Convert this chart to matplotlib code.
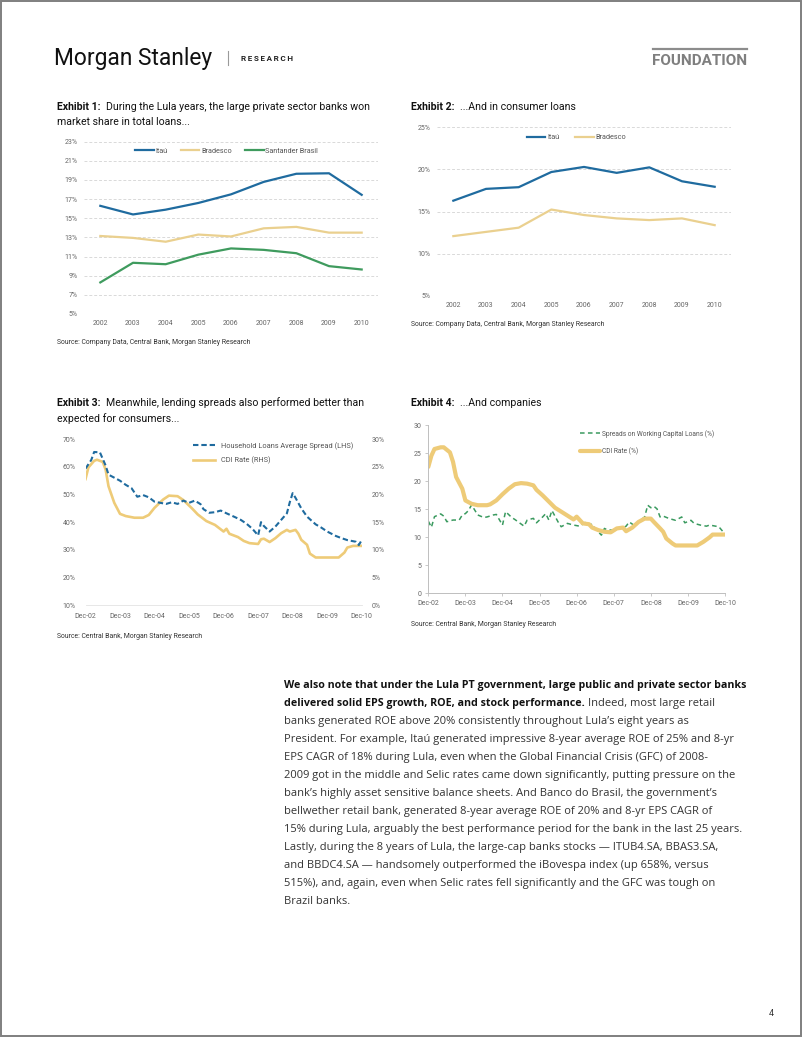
import matplotlib
matplotlib.use("Agg")
import matplotlib.pyplot as plt
from matplotlib.patches import Rectangle
from matplotlib.lines import Line2D

W, H = 802, 1037

# ---- data ----
years = ["2002", "2003", "2004", "2005", "2006", "2007", "2008", "2009", "2010"]

total_itau = [16.3, 15.4, 15.9, 16.6, 17.5, 18.8, 19.65, 19.7, 17.45]
total_bradesco = [13.15, 12.95, 12.55, 13.3, 13.1, 13.95, 14.1, 13.5, 13.5]
total_santander = [8.3, 10.35, 10.2, 11.2, 11.85, 11.7, 11.35, 10.0, 9.65]

cons_itau = [16.3, 17.7, 17.9, 19.7, 20.3, 19.6, 20.25, 18.6, 17.95]
cons_bradesco = [12.1, 12.6, 13.1, 15.25, 14.6, 14.2, 14.0, 14.2, 13.4]

date_labels = ["Dec-02", "Dec-03", "Dec-04", "Dec-05", "Dec-06",
               "Dec-07", "Dec-08", "Dec-09", "Dec-10"]

# months since Dec-02
hh_month = [0, 2, 3, 5, 7, 8, 10, 12, 14, 16, 18, 20, 22, 24, 26, 28, 30, 32,
            34, 36, 38, 40, 41, 43, 45, 47, 49, 52, 54, 56, 58, 60, 61, 62,
            64, 66, 68, 70, 71, 72, 73, 75, 77, 80, 82, 84, 87, 89, 91, 94,
            95, 96]
hh_spread = [59.4, 62.5, 65.4, 65.3, 60.5, 57.2, 56.1, 55.0, 53.5, 52.3, 49.2,
             49.8, 49.0, 47.4, 47.0, 46.6, 47.2, 46.6, 47.8, 47.0, 47.8, 46.5,
             44.7, 43.4, 43.6, 44.2, 43.2, 41.8, 40.8, 39.4, 37.6, 35.2, 40.0,
             38.6, 36.6, 38.4, 40.8, 43.2, 47.2, 50.5, 48.8, 45.0, 42.0, 39.2,
             38.0, 36.6, 35.0, 34.2, 33.5, 32.9, 31.7, 33.5]

cdi3_month = [0, 1, 3, 4, 6, 7, 8, 10, 12, 14, 17, 20, 22, 24, 27, 29, 32, 34,
              37, 39, 42, 45, 47, 48, 49, 50, 53, 55, 57, 60, 61, 62, 64, 66,
              68, 70, 71, 73, 74, 75, 77, 78, 80, 84, 88, 90, 91, 93, 96]
cdi3_rate = [22.8, 24.9, 26.1, 26.3, 25.9, 24.5, 21.5, 18.5, 16.5, 16.1, 15.8,
             15.8, 16.3, 17.6, 19.1, 19.8, 19.7, 19.0, 17.5, 16.4, 15.2, 14.5,
             13.7, 13.3, 13.8, 12.9, 12.3, 11.6, 11.2, 11.05, 11.9, 12.0, 11.4,
             12.1, 13.0, 13.6, 13.3, 13.6, 12.9, 11.8, 10.9, 9.3, 8.6, 8.6,
             8.6, 9.5, 10.4, 10.7, 10.7]

wc_month = [0, 1, 2, 4, 5, 6, 8, 10, 11, 12, 13, 14, 16, 18, 19, 21, 22, 24,
            25, 27, 28, 31, 32, 34, 35, 37, 38, 39, 40, 42, 43, 45, 47, 49,
            51, 52, 53, 54, 56, 57, 58, 60, 61, 63, 64, 65, 67, 68, 70, 71,
            72, 73, 74, 75, 76, 78, 80, 82, 83, 85, 86, 88, 90, 91, 93, 94, 96]
wc_spread = [12.9, 11.8, 13.7, 14.2, 13.8, 12.8, 13.1, 13.1, 14.0, 14.25,
             14.8, 15.8, 14.0, 13.55, 13.65, 14.0, 14.1, 12.2, 14.6, 13.55,
             13.2, 12.0, 13.1, 13.4, 12.6, 13.65, 14.25, 13.1, 14.8, 12.75,
             11.9, 12.5, 12.2, 12.0, 12.75, 12.2, 12.35, 11.6, 10.4, 11.6,
             11.3, 11.3, 11.6, 11.75, 12.0, 12.75, 12.0, 12.75, 13.65, 15.75,
             15.3, 15.55, 15.1, 13.65, 13.8, 13.35, 13.05, 13.65, 12.6, 13.05,
             12.5, 12.2, 12.0, 12.2, 12.0, 11.9, 10.6]

cdi4_month = [0, 1, 2, 4, 5, 7, 8, 9, 11, 12, 14, 16, 19, 20, 22, 24, 26, 28,
              30, 32, 34, 35, 37, 39, 41, 43, 45, 47, 48, 50, 52, 53, 55, 57,
              59, 61, 63, 64, 66, 68, 70, 72, 73, 75, 76, 77, 79, 80, 84, 87,
              89, 91, 92, 94, 96]
cdi4_rate = [22.6, 24.6, 25.8, 26.1, 26.1, 25.2, 23.5, 20.8, 18.7, 16.6, 16.0,
             15.75, 15.75, 15.9, 16.6, 17.7, 18.7, 19.5, 19.7, 19.6, 19.3,
             18.5, 17.5, 16.4, 15.3, 14.6, 13.9, 13.2, 13.7, 12.5, 12.35,
             11.75, 11.3, 11.0, 10.9, 11.6, 11.75, 11.1, 11.75, 12.75, 13.35,
             13.35, 12.75, 11.6, 11.0, 9.8, 8.9, 8.55, 8.55, 8.55, 9.2, 10.0,
             10.5, 10.5, 10.5]

BLUE = "#1f6b9f"
GOLD = "#ead08f"
GREEN = "#3f9b5e"
ORANGE = "#eecb78"
GREEN2 = "#3a9a5f"
TICK = "#666666"
LEG = "#555555"
TICKSIZE = 5.0

plt.rcParams["font.family"] = ["Roboto", "DejaVu Sans"]


def rect(x0, y_top, x1, y_bot):
    return [x0 / W, 1 - y_bot / H, (x1 - x0) / W, (y_bot - y_top) / H]


def fx(x, y):
    return x / W, 1 - y / H


fig = plt.figure(figsize=(W / 100, H / 100), dpi=100)
bg = fig.add_axes([0, 0, 1, 1])
bg.set_xlim(0, 1)
bg.set_ylim(0, 1)
bg.axis("off")
bg.add_patch(Rectangle((0.0008, 0.0008), 0.9984, 0.9984, fill=False,
                       edgecolor="#7f7f7f", linewidth=1.4))
renderer = fig.canvas.get_renderer()


def two_part(x, y, bold, rest, size, gap, bold_color, rest_color,
             rest_size=None, **kw):
    # bold lead-in followed by regular text on the same baseline
    t = bg.text(*fx(x, y), bold, fontsize=size, fontweight="bold",
                color=bold_color, va="baseline", ha="left", **kw)
    x1 = t.get_window_extent(renderer).x1
    bg.text(x1 / W + gap / W, 1 - y / H, rest, fontsize=rest_size or size,
            color=rest_color, va="baseline", ha="left", **kw)


TSIZE = 7.6


def small(x, y, s, size=4.95):
    bg.text(*fx(x, y), s, fontsize=size, color="#333333", va="center",
            ha="left")


# ---- header ----
bg.text(*fx(54, 58), "Morgan Stanley", fontsize=16.4, color="#111111",
        va="center", ha="left")
bg.add_line(Line2D([228 / W, 228 / W], [1 - 51 / H, 1 - 65 / H],
                   color="#9a9a9a", linewidth=0.8))
bg.text(*fx(241, 58.5), "\u2009".join("RESEARCH"), fontsize=5.8,
        fontweight="bold", color="#222222", va="center", ha="left")
bg.add_line(Line2D([653 / W, 747 / W], [1 - 48.5 / H, 1 - 48.5 / H],
                   color="#8c8c8c", linewidth=1.6))
bg.text(*fx(700, 61), "FOUNDATION", fontsize=11, fontweight="bold",
        color="#7f7f7f", va="center", ha="center")

# ---- titles / sources ----
two_part(57, 110.5, "Exhibit 1:",
         "During the Lula years, the large private sector banks won",
         TSIZE, 5, "#111111", "#111111")
bg.text(*fx(57, 125.5), "market share in total loans...", fontsize=TSIZE,
        color="#111111", va="baseline", ha="left")
two_part(411, 110.5, "Exhibit 2:", "...And in consumer loans",
         TSIZE, 5, "#111111", "#111111")
two_part(57, 406.5, "Exhibit 3:",
         "Meanwhile, lending spreads also performed better than",
         TSIZE, 5, "#111111", "#111111")
bg.text(*fx(57, 421.5), "expected for consumers...", fontsize=TSIZE,
        color="#111111", va="baseline", ha="left")
two_part(411, 406.5, "Exhibit 4:", "...And companies",
         TSIZE, 5, "#111111", "#111111")

small(57, 342, "Source: Company Data, Central Bank, Morgan Stanley Research")
small(411, 325, "Source: Company Data, Central Bank, Morgan Stanley Research")
small(57, 637, "Source: Central Bank, Morgan Stanley Research")
small(411, 624, "Source: Central Bank, Morgan Stanley Research")


def pct(v, _):
    return f"{v:.0f}%"


def style_cat(ax, lo, hi, step):
    ax.set_ylim(lo, hi)
    ax.set_yticks(range(lo, hi + 1, step))
    ax.yaxis.set_major_formatter(pct)
    ax.set_xlim(-0.5, len(years) - 0.5)
    ax.set_xticks(range(len(years)))
    ax.set_xticklabels(years)
    for s in ax.spines.values():
        s.set_visible(False)
    ax.grid(axis="y", color="#d9d9d9", linestyle=(0, (3, 2)), linewidth=0.7)
    ax.tick_params(length=0, labelsize=TICKSIZE, labelcolor=TICK, pad=4.5)
    ax.set_axisbelow(True)


# ---- Exhibit 1 ----
ax1 = fig.add_axes(rect(84, 141.7, 378, 314))
x = range(len(years))
ax1.plot(x, total_itau, color=BLUE, lw=1.6, label="Itaú")
ax1.plot(x, total_bradesco, color=GOLD, lw=1.6, label="Bradesco")
ax1.plot(x, total_santander, color=GREEN, lw=1.6, label="Santander Brasil")
style_cat(ax1, 5, 23, 2)
ax1.legend(loc="center", bbox_to_anchor=(0.485, 0.946), ncol=3, frameon=False,
           fontsize=5.2, labelcolor=LEG, handlelength=2.6,
           handletextpad=0.25, columnspacing=1.8, borderpad=0)

# ---- Exhibit 2 ----
ax2 = fig.add_axes(rect(437, 127.3, 731, 296))
ax2.plot(x, cons_itau, color=BLUE, lw=1.6, label="Itaú")
ax2.plot(x, cons_bradesco, color=GOLD, lw=1.6, label="Bradesco")
style_cat(ax2, 5, 25, 5)
ax2.legend(loc="center", bbox_to_anchor=(0.475, 0.938), ncol=2, frameon=False,
           fontsize=5.2, labelcolor=LEG, handlelength=2.6,
           handletextpad=0.25, columnspacing=2.2, borderpad=0)

# ---- Exhibit 3 ----
ax3 = fig.add_axes(rect(85.5, 439.3, 361.7, 605))
ax3r = ax3.twinx()
h1, = ax3.plot(hh_month, hh_spread, color=BLUE, lw=1.5,
               linestyle=(0, (2.6, 1.4)),
               label="Household Loans Average Spread (LHS)")
h2, = ax3r.plot(cdi3_month, cdi3_rate, color=ORANGE, lw=1.9,
                label="CDI Rate (RHS)")
ax3.set_zorder(ax3r.get_zorder() + 1)
ax3.patch.set_visible(False)
ax3.set_xlim(0, 96)
ax3.set_ylim(10, 70)
ax3r.set_ylim(0, 30)
ax3.set_yticks(range(10, 71, 10))
ax3r.set_yticks(range(0, 31, 5))
ax3.yaxis.set_major_formatter(pct)
ax3r.yaxis.set_major_formatter(pct)
ax3.set_xticks(range(0, 97, 12))
ax3.set_xticklabels(date_labels)
for a in (ax3, ax3r):
    for s in a.spines.values():
        s.set_visible(False)
    a.tick_params(length=0, labelsize=TICKSIZE, labelcolor=TICK, pad=7)
ax3.tick_params(axis="x", pad=5.5)
ax3.spines["bottom"].set_visible(True)
ax3.spines["bottom"].set_color("#e3e3e3")
ax3.spines["bottom"].set_linewidth(0.6)
ax3.legend(handles=[h1, h2], loc="upper left", bbox_to_anchor=(0.389, 0.985),
           frameon=False, fontsize=5.3, labelcolor=LEG,
           handlelength=3.0, handletextpad=0.8, labelspacing=0.95,
           borderpad=0, borderaxespad=0)

# ---- Exhibit 4 ----
ax4 = fig.add_axes(rect(428.3, 425.5, 725, 593.3))
g1, = ax4.plot(wc_month, wc_spread, color=GREEN2, lw=1.1,
               linestyle=(0, (3, 2.2)),
               label="Spreads on Working Capital Loans (%)")
g2, = ax4.plot(cdi4_month, cdi4_rate, color=ORANGE, lw=3.0,
               solid_capstyle="round", label="CDI Rate (%)")
ax4.set_xlim(0, 96)
ax4.set_ylim(0, 30)
ax4.set_yticks(range(0, 31, 5))
ax4.set_xticks(range(0, 97, 12))
ax4.set_xticklabels(date_labels)
ax4.spines["top"].set_visible(False)
ax4.spines["right"].set_visible(False)
for s in ("left", "bottom"):
    ax4.spines[s].set_color("#bfbfbf")
    ax4.spines[s].set_linewidth(0.7)
ax4.tick_params(length=2, width=0.6, color="#bfbfbf", labelsize=TICKSIZE,
                labelcolor=TICK, pad=3)
ax4.legend(handles=[g1, g2], loc="upper left", bbox_to_anchor=(0.51, 0.975),
           frameon=False, fontsize=4.8, labelcolor=LEG,
           handlelength=3.0, handletextpad=0.3, labelspacing=1.55,
           borderpad=0, borderaxespad=0)

# ---- body text ----
body_bold = "We also note that under the Lula PT government, large public and private sector banks"
body_bold2 = "delivered solid EPS growth, ROE, and stock performance."
body_rest2 = "Indeed, most large retail"
body_lines = [
    "banks generated ROE above 20% consistently throughout Lula\u2019s eight years as",
    "President. For example, Itaú generated impressive 8-year average ROE of 25% and 8-yr",
    "EPS CAGR of 18% during Lula, even when the Global Financial Crisis (GFC) of 2008-",
    "2009 got in the middle and Selic rates came down significantly, putting pressure on the",
    "bank\u2019s highly asset sensitive balance sheets. And Banco do Brasil, the government\u2019s",
    "bellwether retail bank, generated 8-year average ROE of 20% and 8-yr EPS CAGR of",
    "15% during Lula, arguably the best performance period for the bank in the last 25 years.",
    "Lastly, during the 8 years of Lula, the large-cap banks stocks \u2014 ITUB4.SA, BBAS3.SA,",
    "and BBDC4.SA \u2014 handsomely outperformed the iBovespa index (up 658%, versus",
    "515%), and, again, even when Selic rates fell significantly and the GFC was tough on",
    "Brazil banks.",
]
BODY = dict(family=["Open Sans", "DejaVu Sans"])
BOLDSIZE = 7.62
BSIZE = 8.05
y0, dy = 688, 18.0
bg.text(*fx(284, y0), body_bold, fontsize=BOLDSIZE, fontweight="bold",
        color="#111111", va="baseline", ha="left", **BODY)
two_part(284, y0 + dy, body_bold2, body_rest2, BOLDSIZE, 3.2, "#111111",
         "#333333", rest_size=BSIZE, **BODY)
for i, line in enumerate(body_lines):
    bg.text(*fx(284, y0 + dy * (i + 2)), line, fontsize=BSIZE,
            color="#333333", va="baseline", ha="left", **BODY)

bg.text(*fx(771, 1013), "4", fontsize=6.5, color="#333333", va="center",
        ha="center")

fig.savefig("out.png", dpi=100)
